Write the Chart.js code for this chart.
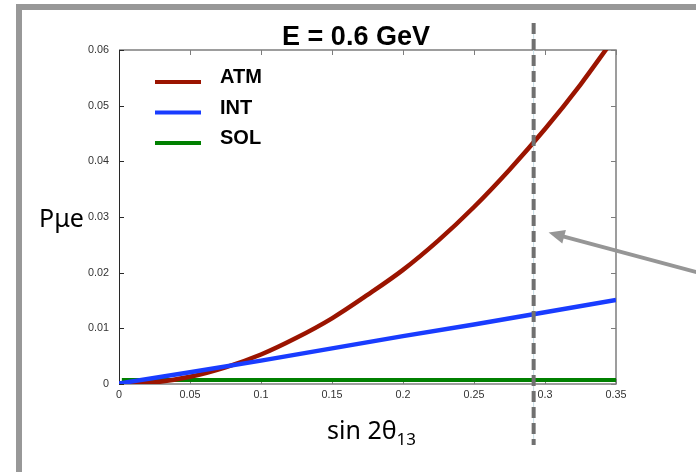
<!DOCTYPE html>
<html>
<head>
<meta charset="utf-8">
<script src="https://cdn.jsdelivr.net/npm/chart.js@4.4.1/dist/chart.umd.min.js"></script>
<style>
  html, body { margin: 0; padding: 0; background: #fff; }
  #wrap { width: 696px; height: 472px; }
</style>
</head>
<body>
<div id="wrap"><canvas id="prob" width="696" height="472"></canvas></div>
<script>
// sin 2theta13 sample points
var s2t = [0, 0.025, 0.05, 0.075, 0.1, 0.125, 0.15, 0.175, 0.2, 0.225, 0.25, 0.275, 0.3, 0.325, 0.345];
// P(mu -> e) pieces at E = 0.6 GeV
var atm = [0, 0.0003, 0.0013, 0.003, 0.0053, 0.0083, 0.0118, 0.016, 0.0205, 0.0258, 0.0318, 0.0385, 0.0458, 0.0538, 0.0608];
var intX = [0, 0.05, 0.1, 0.15, 0.2, 0.25, 0.3, 0.35];
var intY = [0.0001, 0.0021, 0.0042, 0.0064, 0.0086, 0.0107, 0.0129, 0.0151];
var solX = [0.002, 0.35];
var solY = [0.0007, 0.0007];
var labels = ['ATM', 'INT', 'SOL'];
var colors = ['rgb(155,20,0)', 'rgb(25,60,255)', 'rgb(0,128,0)'];
var xTicks = [0, 0.05, 0.1, 0.15, 0.2, 0.25, 0.3, 0.35];
var yTicks = [0, 0.01, 0.02, 0.03, 0.04, 0.05, 0.06];
var markX = 0.292;   // dashed marker
var arrowY = 0.0272; // where the arrow points

function pts(xs, ys) {
    return xs.map((x, i) => ({ x: x, y: ys[i] }));
}

const fmt = v => String(+Number(v).toFixed(3));

// frame, inward ticks, marker, arrow, legend and titles
const decor = {
    id: 'decor',
    beforeDraw(chart) {
        const c = chart.ctx;
        c.save();
        c.fillStyle = '#fff';
        c.fillRect(0, 0, chart.width, chart.height);
        c.fillStyle = 'rgb(152,152,152)';
        c.fillRect(16, 4, chart.width - 16, 6);
        c.fillRect(16, 4, 6, chart.height - 4);
        c.restore();
    },
    beforeDatasetsDraw(chart) {
        const c = chart.ctx, a = chart.chartArea;
        const xs = chart.scales.x, ys = chart.scales.y;
        c.save();
        c.strokeStyle = 'rgb(125,125,125)';
        c.lineWidth = 1.5;
        c.beginPath();
        c.moveTo(a.left, a.top); c.lineTo(a.right, a.top);
        c.lineTo(a.right, a.bottom); c.lineTo(a.left, a.bottom);
        c.stroke();
        c.lineWidth = 1;
        c.beginPath();
        xTicks.forEach(v => {
            const px = Math.round(xs.getPixelForValue(v)) + 0.5;
            c.moveTo(px, a.top); c.lineTo(px, a.top + 5);
            c.moveTo(px, a.bottom); c.lineTo(px, a.bottom - 5);
        });
        yTicks.forEach(v => {
            const py = Math.round(ys.getPixelForValue(v)) + 0.5;
            c.moveTo(a.right, py); c.lineTo(a.right - 5, py);
        });
        c.stroke();
        c.strokeStyle = 'rgb(40,40,40)';
        c.beginPath();
        c.moveTo(a.left + 0.5, a.top); c.lineTo(a.left + 0.5, a.bottom);
        yTicks.forEach(v => {
            const py = Math.round(ys.getPixelForValue(v)) + 0.5;
            c.moveTo(a.left, py); c.lineTo(a.left + 5, py);
        });
        c.stroke();
        c.restore();
    },
    afterDatasetsDraw(chart) {
        const c = chart.ctx, a = chart.chartArea;
        const xs = chart.scales.x, ys = chart.scales.y;
        c.save();

        // dashed marker line
        const mx = xs.getPixelForValue(markX);
        c.strokeStyle = 'rgba(190,215,225,0.9)';
        c.lineWidth = 1;
        c.beginPath(); c.moveTo(mx, 23); c.lineTo(mx, 445); c.stroke();
        c.strokeStyle = 'rgb(112,112,112)';
        c.lineWidth = 4;
        c.setLineDash([11, 5]);
        c.beginPath(); c.moveTo(mx, 23); c.lineTo(mx, 445); c.stroke();
        c.setLineDash([]);

        // arrow coming in from the right
        const tx = mx + 15, ty = ys.getPixelForValue(arrowY);
        const sx = chart.width + 2, sy = ty + 40;
        const ang = Math.atan2(sy - ty, sx - tx);
        c.strokeStyle = 'rgb(150,150,150)';
        c.fillStyle = 'rgb(150,150,150)';
        c.lineWidth = 4;
        c.beginPath();
        c.moveTo(sx, sy);
        c.lineTo(tx + 10 * Math.cos(ang), ty + 10 * Math.sin(ang));
        c.stroke();
        c.beginPath();
        c.moveTo(tx, ty);
        c.lineTo(tx + 16 * Math.cos(ang) - 7 * Math.sin(ang), ty + 16 * Math.sin(ang) + 7 * Math.cos(ang));
        c.lineTo(tx + 16 * Math.cos(ang) + 7 * Math.sin(ang), ty + 16 * Math.sin(ang) - 7 * Math.cos(ang));
        c.closePath();
        c.fill();

        // legend
        c.font = 'bold 20px "Liberation Sans", Arial, sans-serif';
        c.textBaseline = 'alphabetic';
        c.textAlign = 'left';
        chart.data.datasets.forEach((ds, i) => {
            const y = 82 + i * 30.5;
            c.strokeStyle = ds.borderColor;
            c.lineWidth = 4;
            c.beginPath(); c.moveTo(155, y); c.lineTo(201, y); c.stroke();
            c.fillStyle = '#000';
            c.fillText(ds.label, 220, y + 1);
        });

        // title
        c.font = 'bold 27px "Liberation Sans", Arial, sans-serif';
        c.textAlign = 'center';
        c.fillText('E = 0.6 GeV', 356, 45);

        // axis titles
        c.textAlign = 'left';
        c.font = '25px "Noto Sans", sans-serif';
        c.fillText('P\u03bce', 39, 227);
        c.font = '25px "Noto Sans", sans-serif';
        const main = 'sin 2\u03b8';
        c.fillText(main, 327, 439);
        const w = c.measureText(main).width;
        c.font = '17px "Noto Sans", sans-serif';
        c.fillText('13', 327 + w, 445);

        c.restore();
    }
};

const ctx = document.getElementById('prob');
const probChart = new Chart(ctx, {
    type: 'scatter',
    data: {
        datasets: [{
            label: labels[0],
            data: pts(s2t, atm),
            borderColor: colors[0],
            borderWidth: 4.5,
            cubicInterpolationMode: 'monotone',
            order: 1
        }, {
            label: labels[1],
            data: pts(intX, intY),
            borderColor: colors[1],
            borderWidth: 4.5,
            order: 0
        }, {
            label: labels[2],
            data: pts(solX, solY),
            borderColor: colors[2],
            borderWidth: 4,
            order: 2
        }]
    },
    options: {
        responsive: false,
        animation: false,
        showLine: true,
        elements: { point: { radius: 0, hoverRadius: 0 }, line: { fill: false } },
        layout: { padding: { left: 0, top: 50, right: 80, bottom: 0 } },
        plugins: { legend: { display: false }, tooltip: { enabled: false } },
        scales: {
            x: {
                type: 'linear', min: 0, max: 0.35,
                afterFit(s) { s.height = 88; },
                afterBuildTicks(s) { s.ticks = xTicks.map(v => ({ value: v })); },
                grid: { display: false, drawTicks: false },
                border: { display: false },
                ticks: {
                    autoSkip: false, maxRotation: 0, padding: 5,
                    color: '#333', font: { size: 10.8, family: '"Liberation Sans", Arial, sans-serif' },
                    callback: fmt
                }
            },
            y: {
                type: 'linear', min: 0, max: 0.06,
                afterFit(s) { s.width = 119; },
                afterBuildTicks(s) { s.ticks = yTicks.map(v => ({ value: v })); },
                grid: { display: false, drawTicks: false },
                border: { display: false },
                ticks: {
                    autoSkip: false, padding: 10,
                    color: '#333', font: { size: 10.8, family: '"Liberation Sans", Arial, sans-serif' },
                    callback: fmt
                }
            }
        }
    },
    plugins: [decor]
});
</script>
</body>
</html>
